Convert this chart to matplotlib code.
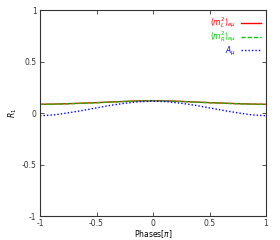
import matplotlib
matplotlib.use("Agg")
import matplotlib.pyplot as plt
import numpy as np

phases = [-1, -0.875, -0.75, -0.625, -0.5, -0.375, -0.25, -0.125, 0,
          0.125, 0.25, 0.375, 0.5, 0.625, 0.75, 0.875, 1]
r_mL = [0.085, 0.087, 0.091, 0.096, 0.101, 0.107, 0.113, 0.118, 0.120,
        0.118, 0.113, 0.107, 0.101, 0.096, 0.091, 0.087, 0.085]
r_mR = [0.084, 0.086, 0.090, 0.095, 0.100, 0.106, 0.112, 0.117, 0.119,
        0.117, 0.112, 0.106, 0.100, 0.095, 0.090, 0.086, 0.084]
r_A = [-0.026, -0.018, 0.002, 0.025, 0.050, 0.075, 0.095, 0.110, 0.115,
       0.110, 0.095, 0.075, 0.050, 0.025, 0.002, -0.018, -0.026]

labels = [r"$(m^2_L)_{e\mu}$", r"$(m^2_R)_{e\mu}$", r"$A_\mu$"]
colors = ["#ff0000", "#00cc00", "#0000ff"]

fig = plt.figure(figsize=(2.8, 2.4), dpi=100)
ax = fig.add_axes([0.143, 0.1, 0.807, 0.858])

ax.plot(phases, r_mL, color=colors[0], lw=1.0, ls="-", label=labels[0])
ax.plot(phases, r_mR, color=colors[1], lw=1.0, ls=(0, (3, 1.5)), label=labels[1])
ax.plot(phases, r_A, color=colors[2], lw=1.0, ls=(0, (1, 1.5)), label=labels[2])

ax.set_xlim(-1, 1)
ax.set_ylim(-1, 1)
ax.set_xticks([-1, -0.5, 0, 0.5, 1])
ax.set_yticks([-1, -0.5, 0, 0.5, 1])
ax.set_xticklabels(["-1", "-0.5", "0", "0.5", "1"])
ax.set_yticklabels(["-1", "-0.5", "0", "0.5", "1"])
ax.tick_params(direction="in", top=True, right=True, labelsize=5.5,
               length=3, width=0.6, colors="#333333", pad=2.5)
for s in ax.spines.values():
    s.set_linewidth(0.8)
    s.set_color("#333333")

ax.set_xlabel(r"Phases[$\pi$]", fontsize=5.5, labelpad=0)
ax.set_ylabel(r"$R_1$", fontsize=5.5, labelpad=2)

leg = ax.legend(loc="upper right", frameon=False, fontsize=5.5, markerfirst=False,
                handlelength=2.6, labelspacing=0.0, borderaxespad=0.3,
                handletextpad=0.6)
for t, c in zip(leg.get_texts(), colors):
    t.set_color(c)

fig.savefig("out.png", dpi=100)
